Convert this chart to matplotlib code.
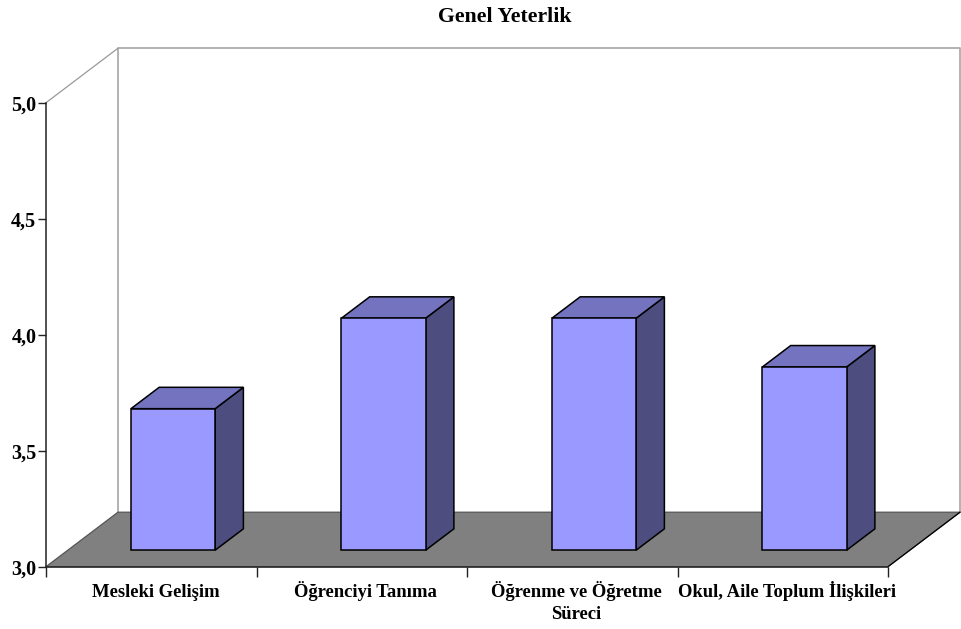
import matplotlib
matplotlib.use('Agg')
import matplotlib.pyplot as plt
from matplotlib.patches import Polygon

plt.rcParams['font.family'] = ['Liberation Serif', 'DejaVu Serif']

categories = ['Mesleki Gelişim', 'Öğrenciyi Tanıma', 'Öğrenme ve Öğretme\nSüreci', 'Okul, Aile Toplum İlişkileri']
values = [3.61, 4.00, 4.00, 3.79]
y_ticks = [3.0, 3.5, 4.0, 4.5, 5.0]
y_tick_labels = ['3,0', '3,5', '4,0', '4,5', '5,0']

W, H = 961, 629
fig = plt.figure(figsize=(W / 100, H / 100), dpi=100)
ax = fig.add_axes([46 / W, (H - 566.7) / H, 842 / W, 464 / H])
ax.set_xlim(0, 4)
ax.set_ylim(3, 5)

# depth of the fake 3d box, in data units
dx = 72 / (842 / 4)
dy = 54.5 / (464 / 2)


def pt(x, y, d=0.0):
    return (x + d * dx, y + d * dy)


def face(points, fc, ec='black', lw=1.1, z=2):
    ax.add_patch(Polygon(points, closed=True, facecolor=fc, edgecolor=ec, linewidth=lw,
                         zorder=z, clip_on=False, joinstyle='miter'))


# walls and floor
wall_color = '#a6a6a6'
ax.plot(*zip(pt(0, 3, 1), pt(0, 5, 1), pt(4, 5, 1), pt(4, 3, 1)), color=wall_color, lw=1.2, clip_on=False, zorder=1)
ax.plot(*zip(pt(0, 5, 0), pt(0, 5, 1)), color='#999999', lw=0.9, clip_on=False, zorder=1)
face([pt(0, 3, 0), pt(4, 3, 0), pt(4, 3, 1), pt(0, 3, 1)], '#808080', ec='#555555', lw=0.9, z=1.5)
ax.plot(*zip(pt(4, 3, 0), pt(4, 3, 1)), color='black', lw=0.9, clip_on=False, zorder=1.6)

# bars
bar_width = 0.4
d0, d1 = 0.303, 0.695
for i, v in enumerate(values):
    x0 = i + 0.5 - bar_width / 2
    x1 = i + 0.5 + bar_width / 2
    face([pt(x1, 3, d0), pt(x1, 3, d1), pt(x1, v, d1), pt(x1, v, d0)], '#4d4d80')
    face([pt(x0, v, d0), pt(x1, v, d0), pt(x1, v, d1), pt(x0, v, d1)], '#7373bf')
    face([pt(x0, 3, d0), pt(x1, 3, d0), pt(x1, v, d0), pt(x0, v, d0)], '#9999ff')

for side in ['top', 'right']:
    ax.spines[side].set_visible(False)
for side in ['left', 'bottom']:
    ax.spines[side].set_color('#222222')
    ax.spines[side].set_linewidth(1.1)
    ax.spines[side].set_zorder(3)
ax.patch.set_visible(False)

ax.set_yticks(y_ticks)
ax.set_yticklabels(y_tick_labels, fontsize=14.5, fontweight='bold')
ax.tick_params(axis='y', length=6, width=1, color='#222222', pad=1)

# ticks between categories, labels centred under each one
ax.set_xticks(range(5))
ax.set_xticklabels([])
ax.tick_params(axis='x', length=7, width=1, color='#222222')
for i, c in enumerate(categories):
    for n, line in enumerate(c.split('\n')):
        ax.annotate(line, (i + 0.5, 3), xytext=(3, -21.8 - n * 16), textcoords='offset points', ha='center',
                    va='baseline', fontsize=13.4, fontweight='bold', annotation_clip=False)

fig.text(505 / W, 1 - 22 / H, 'Genel Yeterlik', ha='center', va='baseline', fontsize=15.7, fontweight='bold')

fig.savefig('out.png', dpi=100)
